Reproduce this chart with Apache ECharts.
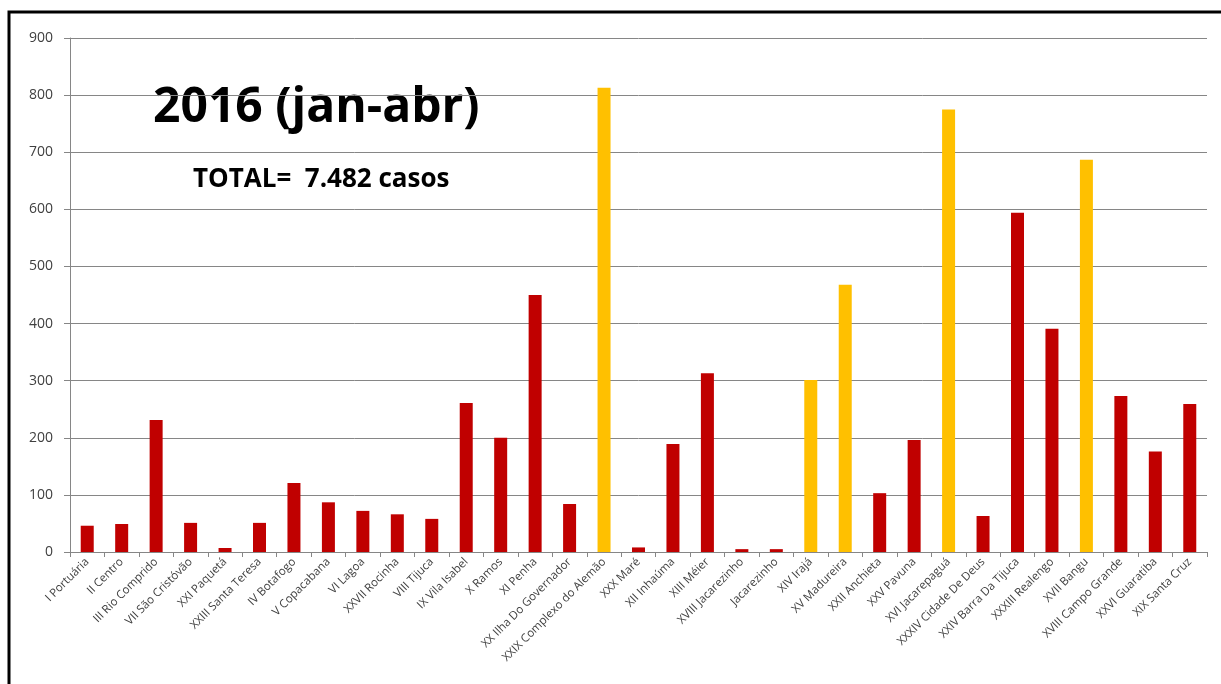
<!DOCTYPE html>
<html>
<head>
<meta charset="utf-8">
<script src="https://cdn.jsdelivr.net/npm/echarts@6/dist/echarts.min.js"></script>
<style>
  html, body { margin: 0; padding: 0; background: #fff; }
  #chart { width: 1221px; height: 684px; }
</style>
</head>
<body>
<div id="chart"></div>
<script>
// regiões administrativas (ordem do gráfico)
const categories = [
  'I Portuária', 'II Centro', 'III Rio Comprido', 'VII São Cristóvão', 'XXI Paquetá',
  'XXIII Santa Teresa', 'IV Botafogo', 'V Copacabana', 'VI Lagoa', 'XXVII Rocinha',
  'VIII Tijuca', 'IX Vila Isabel', 'X Ramos', 'XI Penha', 'XX Ilha Do Governador',
  'XXIX Complexo do Alemão', 'XXX Maré', 'XII Inhaúma', 'XIII Méier', 'XVIII Jacarezinho',
  'Jacarezinho', 'XIV Irajá', 'XV Madureira', 'XXII Anchieta', 'XXV Pavuna',
  'XVI Jacarepaguá', 'XXXIV Cidade De Deus', 'XXIV Barra Da Tijuca', 'XXXIII Realengo', 'XVII Bangu',
  'XVIII Campo Grande', 'XXVI Guaratiba', 'XIX Santa Cruz'
]
const casos = [
  46, 49, 231, 51, 7,
  51, 121, 87, 72, 66,
  58, 261, 200, 450, 84,
  813, 8, 189, 313, 5,
  5, 301, 468, 103, 196,
  775, 63, 594, 391, 687,
  273, 176, 259
]
// regiões destacadas em amarelo
const destaque = ['XXIX Complexo do Alemão', 'XIV Irajá', 'XV Madureira', 'XVI Jacarepaguá', 'XVII Bangu']
const yTicks = { min: 0, max: 900, interval: 100 }

const RED = '#C00000'
const YELLOW = '#FFC000'
const GRAY = '#868686'

const chart = echarts.init(document.getElementById('chart'))

chart.setOption({
  animation: false,
  backgroundColor: '#fff',
  textStyle: { fontFamily: 'Open Sans' },
  grid: { left: 70, right: 14, top: 38, bottom: 132 },
  graphic: [
    {
      type: 'rect',
      shape: { x: 9, y: 12, width: 1240, height: 700 },
      style: { fill: null, stroke: '#000', lineWidth: 3 },
      silent: true
    },
    {
      type: 'text',
      left: 153, top: 84,
      style: { text: '2016 (jan-abr)', font: 'bold 48px "Open Sans"', fill: '#000' }
    },
    {
      type: 'text',
      left: 193, top: 167,
      style: { text: 'TOTAL=  7.482 casos', font: 'bold 26px "Open Sans"', fill: '#000' }
    }
  ],
  xAxis: {
    type: 'category',
    data: categories,
    axisLine: { show: true, lineStyle: { color: GRAY, width: 1 } },
    axisTick: { show: true, length: 5, lineStyle: { color: GRAY } },
    axisLabel: {
      interval: 0,
      rotate: 45,
      margin: 8,
      fontSize: 11.5,
      color: '#404040',
      fontFamily: 'Open Sans'
    },
    splitLine: { show: false }
  },
  yAxis: {
    type: 'value',
    min: yTicks.min,
    max: yTicks.max,
    interval: yTicks.interval,
    axisLine: { show: true, lineStyle: { color: GRAY, width: 1 } },
    axisTick: { show: true, length: 6, lineStyle: { color: GRAY } },
    axisLabel: { fontSize: 14, color: '#404040', margin: 17 },
    splitLine: { show: true, lineStyle: { color: GRAY, width: 1 } }
  },
  series: [
    {
      type: 'bar',
      barWidth: 13,
      data: casos.map((v, i) => ({
        value: v,
        itemStyle: { color: destaque.includes(categories[i]) ? YELLOW : RED }
      })),
      markLine: {
        silent: true,
        symbol: 'none',
        label: { show: false },
        lineStyle: { color: GRAY, type: 'solid', width: 1 },
        data: [{ xAxis: categories.length - 0.5 }]
      }
    }
  ]
})
</script>
</body>
</html>
